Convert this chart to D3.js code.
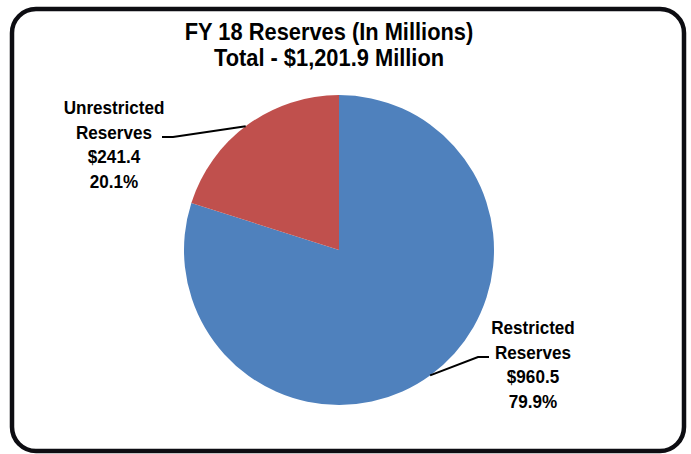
<!DOCTYPE html>
<html>
<head>
<meta charset="utf-8">
<script src="https://cdn.jsdelivr.net/npm/d3@7"></script>
<style>
  body { margin: 0; background: #fff; }
  text { font-family: "Liberation Sans Narrow", "Arial Narrow", "Liberation Sans", Arial, sans-serif; font-weight: bold; fill: #000; }
</style>
</head>
<body>
<div id="container"></div>
<script>
var width = 691,
    height = 454;

var categories = ['Restricted Reserves', 'Unrestricted Reserves'];
var values = [960.5, 241.4];
var percents = ['79.9%', '20.1%'];
var colors = ['#4F81BD', '#C0504D'];
var titleLines = ['FY 18 Reserves (In Millions)', 'Total - $1,201.9 Million'];

var svg = d3.select('#container').append('svg')
    .attr('width', width)
    .attr('height', height);

// frame
svg.append('rect')
    .attr('x', 12).attr('y', 9)
    .attr('width', 672).attr('height', 442)
    .attr('rx', 24).attr('ry', 24)
    .style('fill', '#fff')
    .style('stroke', '#0d0d12')
    .style('stroke-width', 4.5);

svg.selectAll('.title')
    .data(titleLines)
    .enter()
    .append('text')
    .attr('class', 'title')
    .attr('text-anchor', 'middle')
    .attr('transform', function(d, i) { return 'translate(329,' + (40 + i * 26) + ') scale(0.95,1)'; })
    .style('font-size', '23px')
    .text(function(d) { return d; });

var cx = 339, cy = 250, r = 155;

var pie = d3.pie().sort(null).value(function(d) { return d; });
var arc = d3.arc().innerRadius(0).outerRadius(r);

var g = svg.append('g').attr('transform', 'translate(' + cx + ',' + cy + ')');

var arcs = pie(values);

g.selectAll('.slice')
    .data(arcs)
    .enter()
    .append('path')
    .attr('class', 'slice')
    .attr('d', arc)
    .style('fill', function(d, i) { return colors[i]; });

// labels
var labelPos = [
  { x: 533, y: 334 },
  { x: 114, y: 114 }
];

arcs.forEach(function(d, i) {
  var lines = categories[i].split(' ').concat(['$' + d3.format('.1f')(values[i]), percents[i]]);
  svg.append('g').selectAll('text')
      .data(lines)
      .enter()
      .append('text')
      .attr('text-anchor', 'middle')
      .attr('transform', function(t, j) {
        return 'translate(' + labelPos[i].x + ',' + (labelPos[i].y + j * 24.5) + ') scale(0.9,1)';
      })
      .style('font-size', '19px')
      .text(function(t) { return t; });
});

// leader lines, anchored on the slice edge
function edgePoint(angleDeg) {
  var a = angleDeg * Math.PI / 180;
  return [cx + r * Math.sin(a), cy - r * Math.cos(a)];
}
var p1 = edgePoint(144);
var p2 = edgePoint(323);

var line = d3.line();
svg.append('path')
    .attr('d', line([p1, [478, 357], [489, 357]]))
    .style('fill', 'none').style('stroke', '#000').style('stroke-width', 2);
svg.append('path')
    .attr('d', line([[162, 137], [173, 137], p2]))
    .style('fill', 'none').style('stroke', '#000').style('stroke-width', 2);
</script>
</body>
</html>
